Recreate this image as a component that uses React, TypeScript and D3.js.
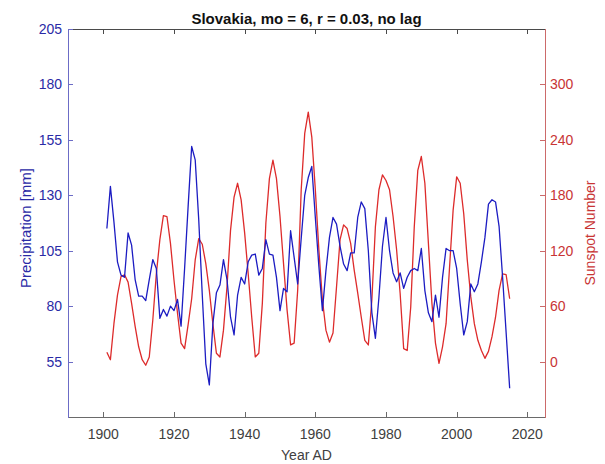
import React from 'react';
import * as d3 from 'd3';

const startYear = 1901;
const precipitation = [
  115, 134, 118, 100, 94, 93, 113, 107.5, 92, 84.5,
  84.5, 82.5, 92, 101, 97, 74.5, 78.5, 75.5, 80, 78,
  83, 71, 97, 125, 152, 146, 119, 85, 54, 44.5,
  72, 86, 89.5, 101, 92, 75, 67, 85, 93, 90,
  100, 103, 103.5, 94, 97, 110, 103.5, 103, 93, 78,
  88, 86.5, 114, 102, 90, 110.5, 130, 138, 143, 120,
  98, 78, 96, 111, 120, 117, 107, 99, 96, 104,
  104, 120, 127, 124, 105, 77, 65.5, 84, 107, 120,
  105, 95, 91, 95, 88, 93, 96, 97, 96, 106,
  87, 77, 73, 85, 75, 93, 106, 105, 105, 97,
  81, 67, 73, 90, 86.5, 90, 100, 111, 126, 128,
  127, 116, 93, 68, 43,
];
const sunspots = [
  10, 2, 41, 72, 92, 94, 86, 63, 38, 16,
  2, -4, 5, 45, 95, 132, 158, 157, 128, 88,
  52, 20, 14, 40, 68, 110, 133, 127, 106, 77,
  41, 9, 5, 34, 81, 142, 178, 193, 175, 139,
  95, 48, 5, 9, 63, 150, 198, 218, 198, 157,
  106, 56, 18, 20, 77, 186, 247, 270, 243, 186,
  121, 67, 34, 21, 31, 81, 132, 148, 144, 128,
  99, 74, 48, 23, 18, 67, 146, 186, 202, 196,
  186, 157, 121, 74, 14, 12, 59, 146, 207, 222,
  193, 128, 63, 20, -2, 16, 41, 103, 164, 200,
  193, 160, 110, 70, 41, 23, 12, 3.5, 11, 27,
  48, 77, 95, 94, 68,
];
const years = precipitation.map((_, i) => startYear + i);
const xTicks = [1900, 1920, 1940, 1960, 1980, 2000, 2020];
const leftTicks = [55, 80, 105, 130, 155, 180, 205];
const rightTicks = [0, 60, 120, 180, 240, 300];

const title = 'Slovakia, mo = 6, r = 0.03, no lag';
const xLabel = 'Year AD';
const leftLabel = 'Precipitation [mm]';
const rightLabel = 'Sunspot Number';

export default function App() {
  const W = 605, H = 464;
  const left = 68, right = 545, top = 29, bottom = 417;
  const tick = 5;
  const font = '"Liberation Sans", Arial, Helvetica, sans-serif';
  const blue = '#1c1cc2';
  const red = '#dd2b2b';
  const blueText = '#2a2aa6';
  const redText = '#c83434';
  const grayAxis = '#4a4a4a';

  const x = d3.scaleLinear().domain([1890, 2025]).range([left, right]);
  const yL = d3.scaleLinear().domain([30, 205]).range([bottom, top]);
  const yR = d3.scaleLinear().domain([-60, 360]).range([bottom, top]);

  const lineL = d3.line<number>().x((_, i) => x(years[i])).y((d) => yL(d));
  const lineR = d3.line<number>().x((_, i) => x(years[i])).y((d) => yR(d));

  return (
    <svg width={W} height={H} style={{ position: 'absolute', left: 0, top: 0, background: '#fff' }} fontFamily={font}>
      <rect x={0} y={0} width={W} height={H} fill="#fff" />
      <path d={lineR(sunspots) || ''} fill="none" stroke={red} strokeWidth={1.3} strokeLinejoin="round" />
      <path d={lineL(precipitation) || ''} fill="none" stroke={blue} strokeWidth={1.3} strokeLinejoin="round" />

      <line x1={left} x2={right} y1={top + 0.5} y2={top + 0.5} stroke={grayAxis} strokeWidth={1} />
      <line x1={left} x2={right} y1={bottom + 0.5} y2={bottom + 0.5} stroke="#6a6a6a" strokeWidth={1} />
      {xTicks.map((t) => (
        <g key={t}>
          <line x1={Math.round(x(t)) + 0.5} x2={Math.round(x(t)) + 0.5} y1={bottom} y2={bottom - tick} stroke="#6a6a6a" />
          <line x1={Math.round(x(t)) + 0.5} x2={Math.round(x(t)) + 0.5} y1={top} y2={top + tick} stroke={grayAxis} />
          <text x={x(t)} y={439} textAnchor="middle" fontSize={14} fill="#404040">{t}</text>
        </g>
      ))}
      <text x={(left + right) / 2} y={460} textAnchor="middle" fontSize={14} fill="#404040">{xLabel}</text>

      <line x1={left + 0.5} x2={left + 0.5} y1={top} y2={bottom + 1} stroke="#6c6cc6" strokeWidth={1} />
      {leftTicks.map((t) => (
        <g key={t}>
          <line x1={left} x2={left + tick} y1={Math.round(yL(t)) + 0.5} y2={Math.round(yL(t)) + 0.5} stroke="#6c6cc6" />
          <text x={left - 6} y={yL(t) + 5} textAnchor="end" fontSize={14} fill={blueText}>{t}</text>
        </g>
      ))}
      <text transform={`translate(31,${(top + bottom) / 2 + 5}) rotate(-90)`} textAnchor="middle" fontSize={15} fill={blueText}>{leftLabel}</text>

      <line x1={right + 0.5} x2={right + 0.5} y1={top} y2={bottom + 1} stroke="#cc6a6a" strokeWidth={1} />
      {rightTicks.map((t) => (
        <g key={t}>
          <line x1={right - tick} x2={right} y1={Math.round(yR(t)) + 0.5} y2={Math.round(yR(t)) + 0.5} stroke="#cc6a6a" />
          <text x={right + 5} y={yR(t) + 5} textAnchor="start" fontSize={14} fill={redText}>{t}</text>
        </g>
      ))}
      <text transform={`translate(595,${(top + bottom) / 2 + 10}) rotate(-90)`} textAnchor="middle" fontSize={14} fill={redText}>{rightLabel}</text>

      <text x={(left + right) / 2} y={24} textAnchor="middle" fontSize={15} fontWeight="bold" fill="#111">{title}</text>
    </svg>
  );
}
